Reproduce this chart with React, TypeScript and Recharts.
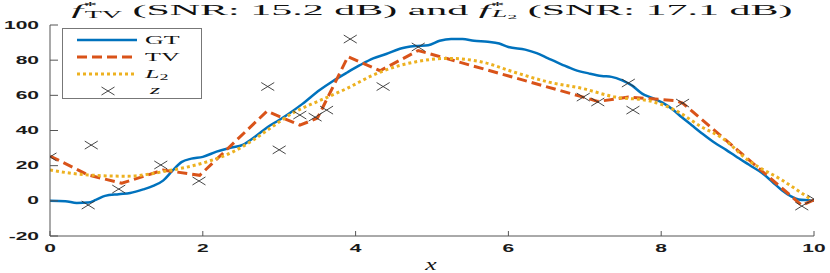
import React from 'react';
import {
  ComposedChart,
  Line,
  Scatter,
  XAxis,
  YAxis,
  Legend,
} from 'recharts';

const gtX = [0, 0.2, 0.35, 0.5, 0.6, 0.72, 0.9, 1.05, 1.22, 1.35, 1.48, 1.6, 1.72, 1.85, 2.0, 2.18, 2.35, 2.53, 2.7, 2.85, 3.0, 3.14, 3.3, 3.53, 3.7, 3.89, 4.05, 4.23, 4.4, 4.58, 4.78, 4.95, 5.1, 5.25, 5.4, 5.55, 5.73, 5.88, 6.0, 6.22, 6.37, 6.52, 6.7, 6.87, 7.05, 7.22, 7.35, 7.49, 7.62, 7.75, 7.88, 8.01, 8.15, 8.27, 8.4, 8.53, 8.7, 8.85, 8.97, 9.15, 9.32, 9.45, 9.58, 9.7, 9.8, 9.92, 10];
const gtY = [0, -0.2, -1.2, -1, 0.5, 2.8, 3.8, 4.5, 6.5, 8.5, 11.5, 17, 22, 24, 25, 28, 30, 32, 37, 42, 46, 50, 55, 63, 68, 73, 77, 81, 83.5, 86.5, 88, 88.5, 91, 92, 92, 91, 90.5, 89.5, 87.5, 86, 84, 81, 77.5, 74.5, 72.5, 71, 70.5, 68.5, 65.5, 61, 58.5, 56, 52, 47.5, 43, 38.5, 33, 29, 25.5, 20.5, 15.8, 11, 6, 2.5, 0.8, 0.3, 0];

// TV reconstruction (piecewise linear)
const tvX = [0, 0.5, 0.94, 1.48, 1.96, 2.84, 3.27, 3.5, 3.9, 4.32, 4.82, 6.98, 7.17, 7.57, 8.18, 8.28, 9.84, 10];
const tvY = [25.5, 14.7, 10, 17.5, 14.5, 51, 43, 47, 82, 74, 85.5, 59, 56.5, 59, 57, 55.6, -2.5, 0.5];

// L2 reconstruction
const l2X = [0, 0.5, 1.0, 1.53, 2.0, 2.4, 2.66, 2.84, 3.18, 3.53, 3.89, 4.23, 4.58, 4.78, 5.21, 5.65, 6.09, 6.52, 6.96, 7.4, 7.83, 8.18, 8.53, 8.79, 9.14, 9.58, 9.97];
const l2Y = [17.5, 14.7, 14, 17, 21.5, 28, 34.6, 40, 50, 57, 64, 71.5, 77, 79, 81, 79, 73, 67.6, 64, 59, 57, 51.6, 42, 36, 23, 11.8, 0.5];

// noisy samples z
const zX = [0, 0.5, 0.54, 0.9, 1.45, 1.95, 2.85, 3.0, 3.27, 3.47, 3.62, 3.93, 4.36, 4.82, 6.98, 7.17, 7.57, 7.63, 8.28, 9.84, 10];
const zY = [25, -2.4, 31.7, 6.7, 20.4, 11.3, 65, 29, 48.8, 47.6, 51.6, 92, 65, 87.5, 59, 56.2, 67, 51.6, 55.6, -3, 1];

const xTicks = [0, 2, 4, 6, 8, 10];
const yTicks = [-20, 0, 20, 40, 60, 80, 100];

const zip = (xs: number[], ys: number[]) => xs.map((x, i) => ({ x, y: ys[i] }));

const gtData = zip(gtX, gtY);
const tvData = zip(tvX, tvY);
const l2Data = zip(l2X, l2Y);
const zData = zip(zX, zY);

const BLUE = '#0072BD';
const ORANGE = '#D95319';
const YELLOW = '#EDB120';
const AXIS = '#555';
const SX = 2.1;

const tickFont = { fontFamily: 'Liberation Sans, Arial, sans-serif', fontWeight: 700, fontSize: 10, fill: '#1a1a1a' };

const BottomTick = (props: any) => {
  const { x, y, payload } = props;
  return (
    <g>
      <line x1={x} x2={x} y1={y} y2={y - 5} stroke={AXIS} />
      <text transform={`translate(${x},${y + 16}) scale(${SX},1)`} textAnchor="middle" {...tickFont}>
        {payload.value}
      </text>
    </g>
  );
};

const TopTick = (props: any) => {
  const { x, y } = props;
  return <line x1={x} x2={x} y1={y} y2={y + 5} stroke={AXIS} />;
};

const LeftTick = (props: any) => {
  const { x, y, payload } = props;
  return (
    <g>
      <line x1={x} x2={x + 8} y1={y} y2={y} stroke={AXIS} />
      <text transform={`translate(${x - 11},${y + 3.5}) scale(${SX},1)`} textAnchor="end" {...tickFont}>
        {payload.value}
      </text>
    </g>
  );
};

const RightTick = (props: any) => {
  const { x, y } = props;
  return <line x1={x} x2={x - 8} y1={y} y2={y} stroke={AXIS} />;
};

const Cross = (props: any) => {
  const { cx, cy } = props;
  const w = 6.5;
  const h = 4;
  return (
    <g stroke="#333" strokeWidth={0.9}>
      <line x1={cx - w} y1={cy - h} x2={cx + w} y2={cy + h} />
      <line x1={cx - w} y1={cy + h} x2={cx + w} y2={cy - h} />
    </g>
  );
};

const legendFont = { fontFamily: 'Liberation Serif, serif', fontSize: 13, fill: '#111' };

const LegendBox = () => (
  <svg width={140} height={71} style={{ display: 'block' }}>
    <rect x={0.5} y={0.5} width={139} height={70} fill="#fff" stroke="#777" />
    <line x1={15} x2={75} y1={12} y2={12} stroke={BLUE} strokeWidth={2.5} />
    <line x1={15} x2={75} y1={29} y2={29} stroke={ORANGE} strokeWidth={3} strokeDasharray="10 5" />
    <line x1={15} x2={75} y1={46} y2={46} stroke={YELLOW} strokeWidth={3} strokeDasharray="3 3" />
    <Cross cx={46} cy={63} />
    <text transform="translate(83,16) scale(2,1)" {...legendFont}>GT</text>
    <text transform="translate(83,33) scale(2,1)" {...legendFont}>TV</text>
    <text transform="translate(83,50) scale(2,1)" {...legendFont}>
      <tspan fontStyle="italic">L</tspan>
      <tspan fontSize={9} dy={2}>2</tspan>
    </text>
    <text transform="translate(88,66) scale(2,1)" {...legendFont} fontStyle="italic">z</text>
  </svg>
);

export default function App() {
  return (
    <div style={{ position: 'absolute', left: 0, top: 0, width: 830, height: 273, background: '#fff' }}>
      <ComposedChart width={830} height={273} margin={{ top: 25, right: 16, bottom: 0, left: 0 }}>
        <XAxis
          dataKey="x"
          type="number"
          domain={[0, 10]}
          ticks={xTicks}
          allowDataOverflow
          height={37}
          tickSize={0}
          tickMargin={0}
          axisLine={{ stroke: AXIS }}
          tick={<BottomTick />}
        />
        <XAxis
          xAxisId="top"
          orientation="top"
          type="number"
          domain={[0, 10]}
          ticks={xTicks}
          height={0}
          tickSize={0}
          tickMargin={0}
          axisLine={{ stroke: AXIS }}
          tick={<TopTick />}
        />
        <YAxis
          type="number"
          domain={[-20, 100]}
          ticks={yTicks}
          allowDataOverflow
          width={50}
          tickSize={0}
          tickMargin={0}
          axisLine={{ stroke: AXIS }}
          tick={<LeftTick />}
        />
        <YAxis
          yAxisId="right"
          orientation="right"
          type="number"
          domain={[-20, 100]}
          ticks={yTicks}
          width={0}
          tickSize={0}
          tickMargin={0}
          axisLine={{ stroke: AXIS }}
          tick={<RightTick />}
        />
        <Line data={gtData} dataKey="y" type="monotone" stroke={BLUE} strokeWidth={2.5} dot={false} isAnimationActive={false} name="GT" />
        <Line data={tvData} dataKey="y" type="linear" stroke={ORANGE} strokeWidth={3} strokeDasharray="10 5" dot={false} isAnimationActive={false} name="TV" />
        <Line data={l2Data} dataKey="y" type="monotone" stroke={YELLOW} strokeWidth={3} strokeDasharray="3 3" dot={false} isAnimationActive={false} name="L2" />
        <Scatter data={zData} dataKey="y" shape={<Cross />} isAnimationActive={false} name="z" />
        <Legend
          layout="vertical"
          align="center"
          verticalAlign="middle"
          content={<LegendBox />}
          wrapperStyle={{ left: 62, top: 28, width: 140, height: 71 }}
        />
      </ComposedChart>
      <svg width={830} height={273} style={{ position: 'absolute', left: 0, top: 0, pointerEvents: 'none' }}>
        <g transform="translate(432,15) scale(2.8,1)">
          <text x={0} y={0} textAnchor="middle" fontFamily="Liberation Serif, serif" fontSize={15} fill="#111">
            <tspan fontStyle="italic">f</tspan>
            <tspan fontSize={10} dy={-6}>*</tspan>
            <tspan fontSize={10} dx={-4.5} dy={9}>TV</tspan>
            <tspan dy={-3}>{' (SNR: 15.2 dB) and '}</tspan>
            <tspan fontStyle="italic">f</tspan>
            <tspan fontSize={10} dy={-6}>*</tspan>
            <tspan fontSize={10} dx={-4.5} dy={8} fontStyle="italic">L</tspan>
            <tspan fontSize={7} dy={2}>2</tspan>
            <tspan dy={-4}>{' (SNR: 17.1 dB)'}</tspan>
          </text>
        </g>
        <text transform="translate(431,270) scale(1.6,1)" textAnchor="middle" fontFamily="Liberation Serif, serif" fontStyle="italic" fontSize={16} fill="#111">
          x
        </text>
      </svg>
    </div>
  );
}
